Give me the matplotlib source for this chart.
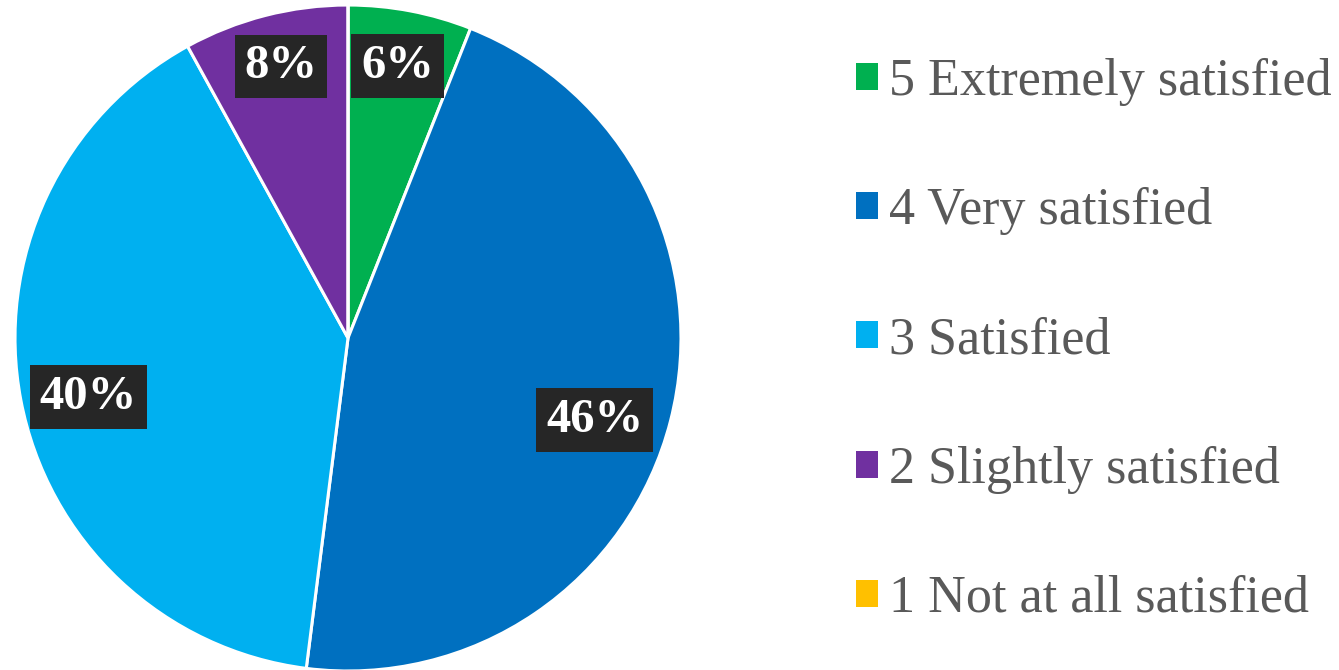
import numpy as np
import matplotlib
matplotlib.use("Agg")
import matplotlib.pyplot as plt
from matplotlib.patches import Patch

categories = ["5 Extremely satisfied", "4 Very satisfied", "3 Satisfied",
              "2 Slightly satisfied", "1 Not at all satisfied"]
shares = [6, 46, 40, 8, 0]
colors = ["#00B050", "#0070C0", "#00B0F0", "#7030A0", "#FFC000"]

serif = ["Liberation Serif", "DejaVu Serif"]

fig = plt.figure(figsize=(13.39, 6.70), dpi=100)
ax = fig.add_axes([0.0112, -0.0015, 0.4974, 0.994])

def fmt(p):
    return f"{p:.0f}%" if p > 0.5 else ""

wedges, _, autotexts = ax.pie(
    shares, colors=colors, startangle=90, counterclock=False,
    autopct=fmt, pctdistance=0.82, radius=1.0,
    wedgeprops=dict(edgecolor="white", linewidth=2.2),
    textprops=dict(color="white", fontsize=35, fontweight="bold", family=serif),
)

# best-fit style placement: radial distance and angular nudge per label
label_radius = [0.83, 0.78, 0.80, 0.84, 0.8]
label_turn = [0.5, -4.0, 2.0, -0.5, 0.0]
for w, t, r, d in zip(wedges, autotexts, label_radius, label_turn):
    ang = np.deg2rad((w.theta1 + w.theta2) / 2 + d)
    t.set_position((r * np.cos(ang), r * np.sin(ang)))
    t.set_bbox(dict(facecolor="#262626", edgecolor="none", boxstyle="square,pad=0.2"))

ax.set_xlim(-1, 1)
ax.set_ylim(-1, 1)
ax.set_aspect("equal")
ax.axis("off")

handles = [Patch(facecolor=c, edgecolor="none") for c in colors]
fig.legend(handles, categories, loc="center left", bbox_to_anchor=(0.604, 0.492),
           frameon=False, prop=dict(family=serif, size=37.5), labelcolor="#595959",
           handlelength=0.42, handleheight=0.42, handletextpad=0.22,
           labelspacing=1.56)

fig.savefig("out.png", dpi=100, facecolor="white")
